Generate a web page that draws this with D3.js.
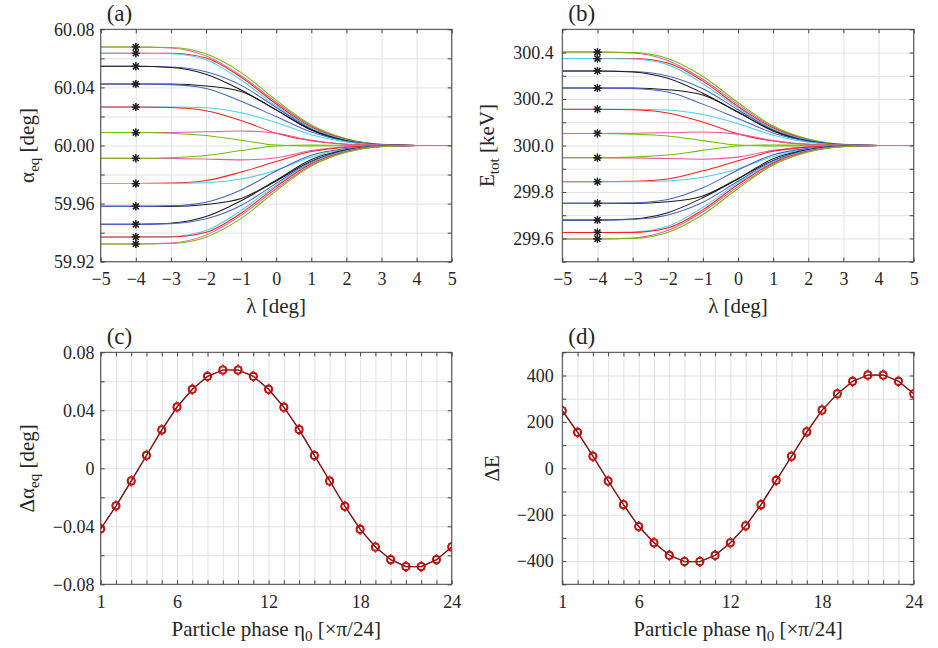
<!DOCTYPE html>
<html><head><meta charset="utf-8">
<script src="https://cdn.jsdelivr.net/npm/d3@7"></script>
<style>
body{margin:0;background:#fff}
svg text{font-family:"Liberation Serif","DejaVu Serif",serif !important;fill:#262626}
</style>
</head><body>
<svg id="chart" width="938" height="648" font-family="Liberation Serif, DejaVu Serif, serif"></svg>
<script>
// ---------------- data ----------------
const lambdaSamples = [-5,-4,-3,-2,-1,0,1,2,3,4,5];
const lambdaTicks = [-5,-4,-3,-2,-1,0,1,2,3,4,5];
const starLambda = -4;
const curveColorKeys = ["m","g","r","c","b","k","k","b","c","r","m","g","m","g","r","c","k","b","k","b","c","r","m","g"];
const palette = {r:"#ff1f1f", g:"#6cc000", b:"#4a62c8", c:"#45d3e8", m:"#e9559f", k:"#1a1a1a"};

// panel (a): alpha_eq [deg] at lambdaSamples, one row per curve
const alphaEq = [
 [60.0678,60.0678,60.0671,60.0617,60.0481,60.0298,60.0136,60.0044,60.0007,60,60],
 [60.0678,60.0678,60.0675,60.0631,60.0502,60.0312,60.0142,60.0047,60.0008,60,60],
 [60.0635,60.0635,60.0635,60.0603,60.0470,60.0286,60.0127,60.0041,60.0006,60,60],
 [60.0635,60.0635,60.0632,60.0591,60.0451,60.0273,60.0121,60.0038,60.0006,60,60],
 [60.0545,60.0545,60.0540,60.0507,60.0414,60.0262,60.0114,60.0035,60.0005,60,60],
 [60.0545,60.0545,60.0537,60.0491,60.0382,60.0245,60.0109,60.0033,60.0005,60,60],
 [60.0423,60.0423,60.0423,60.0410,60.0372,60.0245,60.0106,60.0030,60.0005,60,60],
 [60.0423,60.0423,60.0419,60.0393,60.0305,60.0199,60.0093,60.0030,60.0005,60,60],
 [60.0265,60.0265,60.0265,60.0260,60.0225,60.0159,60.0074,60.0024,60.0004,60,60],
 [60.0265,60.0265,60.0262,60.0239,60.0172,60.0085,60.0032,60.0009,60.0002,60,60],
 [60.0089,60.0089,60.0090,60.0094,60.0100,60.0085,60.0036,60.0009,60.0002,60,60],
 [60.0089,60.0089,60.0085,60.0069,60.0036,60.0003,59.9997,59.9999,60,60,60],
 [59.9912,59.9912,59.9911,59.9907,59.9901,59.9916,59.9965,59.9991,59.9998,60,60],
 [59.9912,59.9912,59.9916,59.9931,59.9965,59.9997,60.0003,60.0001,60,60,60],
 [59.9738,59.9738,59.9741,59.9759,59.9817,59.9890,59.9958,59.9988,59.9998,60,60],
 [59.9738,59.9738,59.9738,59.9743,59.9769,59.9830,59.9921,59.9976,59.9996,60,60],
 [59.9581,59.9581,59.9581,59.9594,59.9635,59.9761,59.9904,59.9971,59.9995,60,60],
 [59.9581,59.9581,59.9585,59.9610,59.9694,59.9824,59.9933,59.9979,59.9996,60,60],
 [59.9457,59.9457,59.9465,59.9511,59.9620,59.9756,59.9891,59.9967,59.9995,60,60],
 [59.9457,59.9457,59.9462,59.9495,59.9587,59.9739,59.9886,59.9965,59.9995,60,60],
 [59.9370,59.9370,59.9373,59.9414,59.9553,59.9729,59.9880,59.9962,59.9994,60,60],
 [59.9370,59.9370,59.9370,59.9402,59.9534,59.9717,59.9874,59.9959,59.9994,60,60],
 [59.9322,59.9322,59.9329,59.9383,59.9519,59.9702,59.9864,59.9956,59.9993,60,60],
 [59.9322,59.9322,59.9325,59.9369,59.9498,59.9688,59.9858,59.9953,59.9992,60,60]
];

// panel (b): E_tot [keV] at lambdaSamples
const energyTot = [
 [300.402,300.402,300.398,300.366,300.285,300.177,300.080,300.026,300.004,300,300],
 [300.402,300.402,300.400,300.374,300.297,300.185,300.084,300.028,300.005,300,300],
 [300.374,300.374,300.374,300.355,300.277,300.168,300.075,300.024,300.004,300,300],
 [300.374,300.374,300.372,300.348,300.266,300.161,300.071,300.022,300.004,300,300],
 [300.321,300.321,300.318,300.299,300.244,300.154,300.067,300.021,300.003,300,300],
 [300.321,300.321,300.316,300.289,300.225,300.144,300.064,300.019,300.003,300,300],
 [300.247,300.247,300.247,300.240,300.217,300.143,300.062,300.017,300.003,300,300],
 [300.247,300.247,300.245,300.230,300.178,300.116,300.054,300.017,300.003,300,300],
 [300.156,300.156,300.156,300.153,300.133,300.094,300.044,300.014,300.002,300,300],
 [300.156,300.156,300.154,300.140,300.101,300.050,300.019,300.005,300.001,300,300],
 [300.052,300.052,300.053,300.055,300.058,300.049,300.021,300.005,300.001,300,300],
 [300.052,300.052,300.049,300.041,300.021,300.002,299.998,299.999,300,300,300],
 [299.947,299.947,299.946,299.944,299.941,299.950,299.979,299.995,299.999,300,300],
 [299.947,299.947,299.950,299.959,299.979,299.998,300.002,300.001,300,300,300],
 [299.844,299.844,299.846,299.856,299.891,299.934,299.975,299.993,299.999,300,300],
 [299.844,299.844,299.844,299.847,299.863,299.899,299.953,299.986,299.998,300,300],
 [299.751,299.751,299.751,299.758,299.783,299.858,299.943,299.983,299.997,300,300],
 [299.751,299.751,299.753,299.768,299.818,299.895,299.960,299.988,299.998,300,300],
 [299.679,299.679,299.684,299.711,299.775,299.856,299.936,299.981,299.997,300,300],
 [299.679,299.679,299.682,299.701,299.756,299.846,299.933,299.979,299.997,300,300],
 [299.626,299.626,299.628,299.652,299.734,299.839,299.929,299.978,299.996,300,300],
 [299.626,299.626,299.626,299.645,299.723,299.832,299.925,299.976,299.996,300,300],
 [299.598,299.598,299.602,299.634,299.715,299.823,299.920,299.974,299.996,300,300],
 [299.598,299.598,299.600,299.626,299.703,299.815,299.916,299.972,299.995,300,300]
];

// panels (c), (d)
const phaseEta = [1,2,3,4,5,6,7,8,9,10,11,12,13,14,15,16,17,18,19,20,21,22,23,24];
const phaseTickLabels = [1,6,12,18,24];
const dAlphaEq = [-0.0417,-0.0259,-0.0087,0.0090,0.0265,0.0423,0.0545,0.0634,0.0678,0.0678,0.0634,0.0545,0.0421,0.0267,0.0088,-0.0088,-0.0262,-0.0421,-0.0543,-0.0630,-0.0678,-0.0678,-0.0630,-0.0542];
const dEnergy = [248,155,52,-55,-157,-251,-321,-375,-402,-402,-375,-321,-248,-157,-52,52,157,251,321,375,402,402,375,321];

const alphaTicks = [59.92,59.94,59.96,59.98,60.00,60.02,60.04,60.06,60.08];
const alphaTickLabels = [59.92,59.96,60.00,60.04,60.08];
const energyTicks = [299.5,299.6,299.7,299.8,299.9,300.0,300.1,300.2,300.3,300.4,300.5];
const energyTickLabels = [299.6,299.8,300.0,300.2,300.4];
const dAlphaTicks = [-0.08,-0.06,-0.04,-0.02,0,0.02,0.04,0.06,0.08];
const dAlphaTickLabels = [-0.08,-0.04,0,0.04,0.08];
const dETicks = [-500,-400,-300,-200,-100,0,100,200,300,400,500];
const dETickLabels = [-400,-200,0,200,400];

// ---------------- drawing ----------------
const FONT = "Liberation Serif, DejaVu Serif, serif";
const svg = d3.select("#chart");
const AX = "#444";
const GRID = "#e1e1e1";
const has = (arr, v) => arr.some(a => Math.abs(a - v) < 1e-9);

function panel(o) {
  const g = svg.append("g").attr("font-family", FONT);
  const x = d3.scaleLinear().domain(o.xd).range([o.x0, o.x1]);
  const y = d3.scaleLinear().domain(o.yd).range([o.y1, o.y0]);
  const W = o.x1 - o.x0, H = o.y1 - o.y0;
  const id = "clip" + o.name;
  svg.append("clipPath").attr("id", id).append("rect")
    .attr("x", o.x0).attr("y", o.y0).attr("width", W).attr("height", H);

  // grid
  g.append("g").attr("transform", `translate(0,${o.y1})`)
    .call(d3.axisBottom(x).tickValues(o.xt).tickSize(-H).tickFormat(""))
    .call(s => { s.select(".domain").remove(); s.selectAll("line").attr("stroke", GRID).attr("stroke-width", 1); });
  g.append("g").attr("transform", `translate(${o.x0},0)`)
    .call(d3.axisLeft(y).tickValues(o.yt).tickSize(-W).tickFormat(""))
    .call(s => { s.select(".domain").remove(); s.selectAll("line").attr("stroke", GRID).attr("stroke-width", 1); });

  const data = g.append("g").attr("clip-path", `url(#${id})`);
  o.draw(data, x, y);

  // box + ticks
  const tickStyle = s => { s.attr("font-family", FONT); s.select(".domain").remove(); s.selectAll("line").attr("stroke", AX).attr("stroke-width", 1); };
  const bx = g.append("g").attr("transform", `translate(0,${o.y1})`)
    .call(d3.axisBottom(x).tickValues(o.xt).tickSize(-4).tickPadding(10.5)
      .tickFormat(d => has(o.xl, d) ? o.xf(d) : ""))
    .call(tickStyle);
  bx.selectAll("text").attr("font-size", 18).attr("fill", "#262626").attr("font-family", FONT);
  g.append("g").attr("transform", `translate(0,${o.y0})`)
    .call(d3.axisTop(x).tickValues(o.xt).tickSize(-4).tickFormat("")).call(tickStyle);
  const by = g.append("g").attr("transform", `translate(${o.x0},0)`)
    .call(d3.axisLeft(y).tickValues(o.yt).tickSize(-4).tickPadding(o.ypad)
      .tickFormat(d => has(o.yl, d) ? o.yf(d) : ""))
    .call(tickStyle);
  by.selectAll("text").attr("font-size", 18).attr("fill", "#262626").attr("font-family", FONT);
  g.append("g").attr("transform", `translate(${o.x1},0)`)
    .call(d3.axisRight(y).tickValues(o.yt).tickSize(-4).tickFormat("")).call(tickStyle);
  g.append("rect").attr("x", o.x0).attr("y", o.y0).attr("width", W).attr("height", H)
    .attr("fill", "none").attr("stroke", AX).attr("stroke-width", 1);

  // panel label
  g.append("text").attr("x", o.x0 + 6).attr("y", o.y0 - 8.8).attr("font-size", 23)
    .attr("font-family", FONT).text(o.tag);

  // x label
  const xl = g.append("text").attr("x", (o.x0 + o.x1) / 2).attr("y", o.xly)
    .attr("text-anchor", "middle").attr("font-size", 21).attr("font-family", FONT);
  o.xlabel(xl);
  // y label
  const yl = g.append("text").attr("transform", `translate(${o.ylx},${(o.y0 + o.y1) / 2}) rotate(-90)`)
    .attr("text-anchor", "middle").attr("font-size", 21).attr("font-family", FONT);
  o.ylabel(yl);
}

function sub(t, main, s, rest) {
  t.append("tspan").text(main);
  t.append("tspan").attr("font-size", 15).attr("dy", 5).text(s);
  if (rest) t.append("tspan").attr("dy", -5).text(rest);
}

const starPath = "M-4,0H4M0,-4V4M-2.9,-2.9L2.9,2.9M-2.9,2.9L2.9,-2.9";

function drawCurves(curves) {
  return (g, x, y) => {
    const line = d3.line().x((d, i) => x(lambdaSamples[i])).y(d => y(d)).curve(d3.curveMonotoneX);
    curves.forEach((c, k) => {
      g.append("path").attr("d", line(c)).attr("fill", "none")
        .attr("stroke", palette[curveColorKeys[k]]).attr("stroke-width", 1.05);
    });
    const si = lambdaSamples.indexOf(starLambda);
    curves.forEach(c => {
      g.append("path").attr("d", starPath)
        .attr("transform", `translate(${x(starLambda)},${y(c[si])})`)
        .attr("stroke", "#222").attr("stroke-width", 1.2).attr("fill", "none");
    });
  };
}

function drawPhase(vals) {
  return (g, x, y) => {
    const line = d3.line().x((d, i) => x(phaseEta[i])).y(d => y(d));
    g.append("path").attr("d", line(vals)).attr("fill", "none").attr("stroke", "#222").attr("stroke-width", 1.2);
    g.append("path").attr("d", line(vals)).attr("fill", "none").attr("stroke", "#e00000").attr("stroke-width", 0.8)
      .attr("transform", "translate(0.5,0)");
    vals.forEach((v, i) => {
      const px = x(phaseEta[i]), py = y(v);
      g.append("rect").attr("x", px - 3).attr("y", py - 3).attr("width", 6).attr("height", 6)
        .attr("fill", "none").attr("stroke", "#222").attr("stroke-width", 0.9);
      g.append("circle").attr("cx", px).attr("cy", py).attr("r", 4)
        .attr("fill", "none").attr("stroke", "#e00000").attr("stroke-width", 1.2);
      g.append("path").attr("d", `M${px},${py - 5.5}L${px + 3.6},${py}L${px},${py + 5.5}L${px - 3.6},${py}Z`)
        .attr("fill", "none").attr("stroke", "#e00000").attr("stroke-width", 0.9);
    });
  };
}

const lamFmt = d => d3.format("d")(d);

panel({
  name: "a", tag: "(a)", x0: 100.7, x1: 451.7, y0: 29.3, y1: 261.7,
  xd: [-5, 5], yd: [59.92, 60.08], xt: lambdaTicks, xl: lambdaTicks, xf: lamFmt,
  yt: alphaTicks, yl: alphaTickLabels, yf: d3.format(".2f"), ypad: 6.3,
  xly: 313, ylx: 34,
  xlabel: t => t.text("λ [deg]"),
  ylabel: t => sub(t, "α", "eq", " [deg]"),
  draw: drawCurves(alphaEq)
});
panel({
  name: "b", tag: "(b)", x0: 562.3, x1: 913.7, y0: 29.3, y1: 261.7,
  xd: [-5, 5], yd: [299.5, 300.5], xt: lambdaTicks, xl: lambdaTicks, xf: lamFmt,
  yt: energyTicks, yl: energyTickLabels, yf: d3.format(".1f"), ypad: 8.5,
  xly: 313, ylx: 494,
  xlabel: t => t.text("λ [deg]"),
  ylabel: t => sub(t, "E", "tot", " [keV]"),
  draw: drawCurves(energyTot)
});
panel({
  name: "c", tag: "(c)", x0: 100.7, x1: 451.7, y0: 352.3, y1: 584.3,
  xd: [1, 24], yd: [-0.08, 0.08], xt: phaseEta, xl: phaseTickLabels, xf: d3.format("d"),
  yt: dAlphaTicks, yl: dAlphaTickLabels, yf: d => d === 0 ? "0" : d3.format(".2f")(d), ypad: 6.3,
  xly: 636, ylx: 34,
  xlabel: t => { sub(t, "Particle phase η", "0", " [×π/24]"); },
  ylabel: t => sub(t, "Δα", "eq", " [deg]"),
  draw: drawPhase(dAlphaEq)
});
panel({
  name: "d", tag: "(d)", x0: 562.3, x1: 913.7, y0: 352.3, y1: 584.3,
  xd: [1, 24], yd: [-500, 500], xt: phaseEta, xl: phaseTickLabels, xf: d3.format("d"),
  yt: dETicks, yl: dETickLabels, yf: d3.format("d"), ypad: 8.5,
  xly: 636, ylx: 499,
  xlabel: t => { sub(t, "Particle phase η", "0", " [×π/24]"); },
  ylabel: t => t.text("ΔE"),
  draw: drawPhase(dEnergy)
});
</script>
</body></html>
